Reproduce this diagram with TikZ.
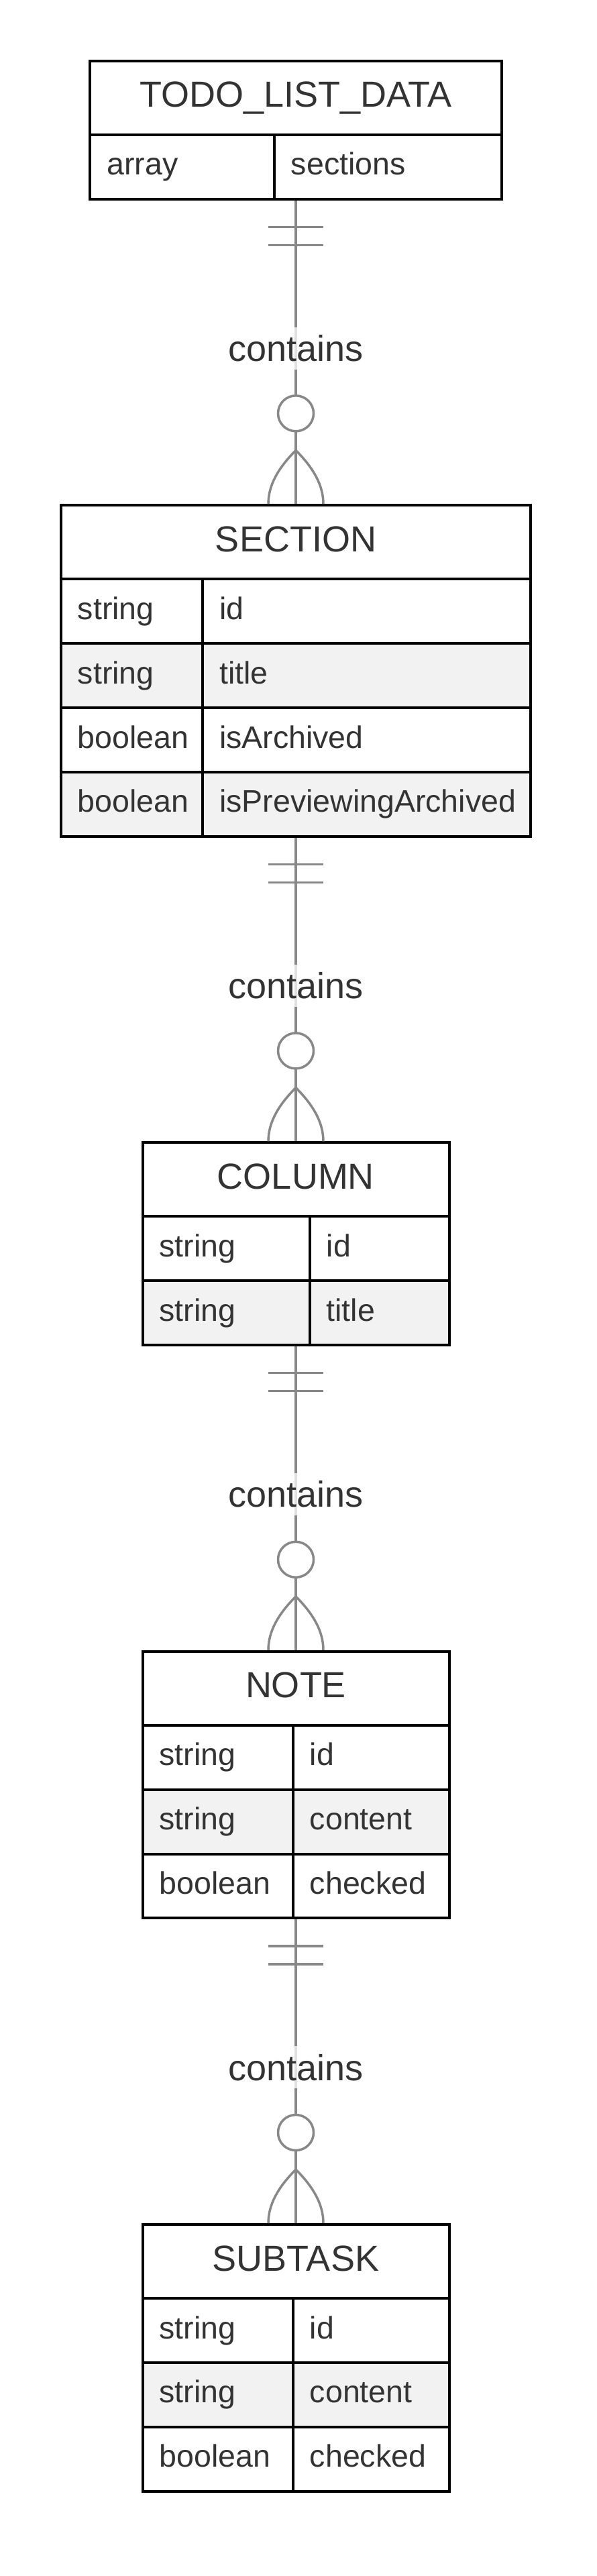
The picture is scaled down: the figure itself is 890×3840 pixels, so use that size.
\documentclass[tikz,border=0pt]{standalone}
\usepackage{fontspec}
\setmainfont{Liberation Sans}
\usepackage{xcolor}
\usepackage{tikz}
\usetikzlibrary{positioning}

\definecolor{erText}{HTML}{333333}
\definecolor{erLine}{HTML}{888888}
\definecolor{erRow}{HTML}{F2F2F2}

\begin{document}
\begin{tikzpicture}[x=1pt,y=-1pt,
    entitybox/.style={draw=black,line width=4pt,fill=white},
    entityname/.style={anchor=base,inner sep=0pt,text=erText,font=\fontsize{54}{64}\selectfont},
    attr/.style={anchor=base west,inner sep=0pt,text=erText,font=\fontsize{46.5}{56}\selectfont},
    rel/.style={draw=erLine,line width=3.5pt},
    rellabel/.style={fill=white,fill opacity=0.75,text opacity=1,text=erText,
      font=\fontsize{54}{64}\selectfont,inner xsep=2pt,minimum height=63pt,yshift=6pt},
    onlyone/.pic={\draw[rel] (-41,41.6) -- (41,41.6) (-41,68.6) -- (41,68.6);},
    zeromany/.pic={
      \draw[rel,fill=white] (0,-137) circle[radius=26.5];
      \draw[rel] (-41,-2) .. controls (-41,-29) and (-27.3,-54.7) .. (0,-82)
        .. controls (27.3,-54.7) and (41,-29) .. (41,-2);}]
  \useasboundingbox (0,0) rectangle (890,3840);

  % TODO_LIST_DATA
  \draw[entitybox] (134.3,91) rectangle (747.7,201);
  \node[entityname] (todo) at (441,160) {TODO\_LIST\_DATA};
  \foreach \atype/\aname [count=\i] in {array/sections}{
    \pgfmathsetmacro\ya{201+(\i-1)*95.85}
    \pgfmathsetmacro\yb{\ya+95.85}
    \pgfmathtruncatemacro\rowpct{mod(\i+1,2)*100}
    \draw[entitybox,fill=erRow!\rowpct!white] (134.3,\ya) rectangle (408.7,\yb) (408.7,\ya) rectangle (747.7,\yb);
    \node[attr] (todo-t\i) at (159.3,\ya+60) {\atype};
    \node[attr] (todo-a\i) at (433.7,\ya+60) {\aname};
  }
  \coordinate (todo-end) at (441,296.85);

  % SECTION
  \draw[entitybox] (90.7,753.3) rectangle (790.7,863.3);
  \node[entityname] (section) at (441,822.3) {SECTION};
  \foreach \atype/\aname [count=\i] in {string/id,string/title,boolean/isArchived,boolean/isPreviewingArchived}{
    \pgfmathsetmacro\ya{863.3+(\i-1)*95.85}
    \pgfmathsetmacro\yb{\ya+95.85}
    \pgfmathtruncatemacro\rowpct{mod(\i+1,2)*100}
    \draw[entitybox,fill=erRow!\rowpct!white] (90.7,\ya) rectangle (302,\yb) (302,\ya) rectangle (790.7,\yb);
    \node[attr] (section-t\i) at (115.7,\ya+60) {\atype};
    \node[attr] (section-a\i) at (327,\ya+60) {\aname};
  }
  \coordinate (section-top) at (441,753.3);
  \coordinate (section-end) at (441,1246.7);

  % COLUMN
  \draw[entitybox] (212.5,1703.4) rectangle (669.5,1813.4);
  \node[entityname] (column) at (441,1772.4) {COLUMN};
  \foreach \atype/\aname [count=\i] in {string/id,string/title}{
    \pgfmathsetmacro\ya{1813.4+(\i-1)*95.85}
    \pgfmathsetmacro\yb{\ya+95.85}
    \pgfmathtruncatemacro\rowpct{mod(\i+1,2)*100}
    \draw[entitybox,fill=erRow!\rowpct!white] (212.5,\ya) rectangle (461.5,\yb) (461.5,\ya) rectangle (669.5,\yb);
    \node[attr] (column-t\i) at (237.5,\ya+60) {\atype};
    \node[attr] (column-a\i) at (486.5,\ya+60) {\aname};
  }
  \coordinate (column-top) at (441,1703.4);
  \coordinate (column-end) at (441,2005.1);

  % NOTE
  \draw[entitybox] (212.5,2461.8) rectangle (669.5,2571.8);
  \node[entityname] (note) at (441,2530.8) {NOTE};
  \foreach \atype/\aname [count=\i] in {string/id,string/content,boolean/checked}{
    \pgfmathsetmacro\ya{2571.8+(\i-1)*95.85}
    \pgfmathsetmacro\yb{\ya+95.85}
    \pgfmathtruncatemacro\rowpct{mod(\i+1,2)*100}
    \draw[entitybox,fill=erRow!\rowpct!white] (212.5,\ya) rectangle (436.7,\yb) (436.7,\ya) rectangle (669.5,\yb);
    \node[attr] (note-t\i) at (237.5,\ya+60) {\atype};
    \node[attr] (note-a\i) at (461.7,\ya+60) {\aname};
  }
  \coordinate (note-top) at (441,2461.8);
  \coordinate (note-end) at (441,2859.35);

  % SUBTASK
  \draw[entitybox] (212.5,3316) rectangle (669.5,3426);
  \node[entityname] (subtask) at (441,3385) {SUBTASK};
  \foreach \atype/\aname [count=\i] in {string/id,string/content,boolean/checked}{
    \pgfmathsetmacro\ya{3426+(\i-1)*95.85}
    \pgfmathsetmacro\yb{\ya+95.85}
    \pgfmathtruncatemacro\rowpct{mod(\i+1,2)*100}
    \draw[entitybox,fill=erRow!\rowpct!white] (212.5,\ya) rectangle (436.7,\yb) (436.7,\ya) rectangle (669.5,\yb);
    \node[attr] (subtask-t\i) at (237.5,\ya+60) {\atype};
    \node[attr] (subtask-a\i) at (461.7,\ya+60) {\aname};
  }
  \coordinate (subtask-top) at (441,3316);

  % relations
  \draw[rel,shorten <=2pt,shorten >=2pt] (todo-end) -- node[rellabel] (todo-section) {contains} (section-top);
  \draw[rel,shorten <=2pt,shorten >=2pt] (section-end) -- node[rellabel] (section-column) {contains} (column-top);
  \draw[rel,shorten <=2pt,shorten >=2pt] (column-end) -- node[rellabel] (column-note) {contains} (note-top);
  \draw[rel,shorten <=2pt,shorten >=2pt] (note-end) -- node[rellabel] (note-subtask) {contains} (subtask-top);
  \pic at (todo-end) {onlyone};
  \pic at (section-end) {onlyone};
  \pic at (column-end) {onlyone};
  \pic at (note-end) {onlyone};
  \pic at (section-top) {zeromany};
  \pic at (column-top) {zeromany};
  \pic at (note-top) {zeromany};
  \pic at (subtask-top) {zeromany};
\end{tikzpicture}
\end{document}
